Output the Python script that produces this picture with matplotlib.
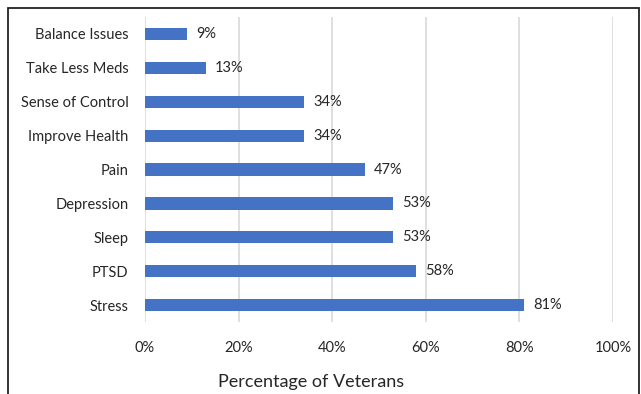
import matplotlib.pyplot as plt
from matplotlib.patches import Rectangle

plt.rcParams['font.family'] = ['Lato', 'DejaVu Sans']

# 数据
categories = ['Balance Issues', 'Take Less Meds', 'Sense of Control', 'Improve Health',
              'Pain', 'Depression', 'Sleep', 'PTSD', 'Stress']
values = [9, 13, 34, 34, 47, 53, 53, 58, 81]
xticks = [0, 20, 40, 60, 80, 100]
xtick_labels = ['0%', '20%', '40%', '60%', '80%', '100%']

fig = plt.figure(figsize=(6.41, 3.94), dpi=100)
ax = fig.add_axes([0.2262, 0.1827, 0.7301, 0.7741])

ypos = list(range(len(categories)))
bars = ax.barh(ypos, values, height=0.36, color='#4472C4', zorder=3)
ax.set_ylim(len(categories) - 0.5, -0.5)
ax.set_xlim(0, 100)
ax.set_yticks(ypos)
ax.set_yticklabels(categories, fontsize=10.5, color='#262626')
ax.set_xticks(xticks)
ax.set_xticklabels(xtick_labels, fontsize=10.5, color='#262626')
ax.tick_params(axis='both', length=0)
ax.tick_params(axis='y', pad=12)
ax.tick_params(axis='x', pad=14)

for b, v in zip(bars, values):
    ax.annotate(f'{v}%', (b.get_width(), b.get_y() + b.get_height() / 2),
                xytext=(6.5, 0), textcoords='offset points',
                va='center', ha='left', fontsize=10.5, color='#262626')

ax.grid(axis='x', color='#D9D9D9', linewidth=1.2, zorder=0)
for s in ax.spines.values():
    s.set_visible(False)

ax.set_xlabel('Percentage of Veterans', fontsize=13, color='#262626', labelpad=12)
ax.xaxis.set_label_coords(0.355, -0.17)

# 外框
frame = Rectangle((7.5 / 641, -0.2), (639 - 7.5) / 641, 1.2 - 7.5 / 394,
                  transform=fig.transFigure, fill=False, edgecolor='#222222',
                  linewidth=1.3, clip_on=False)
fig.patches.append(frame)

fig.savefig('out.png', dpi=100)
